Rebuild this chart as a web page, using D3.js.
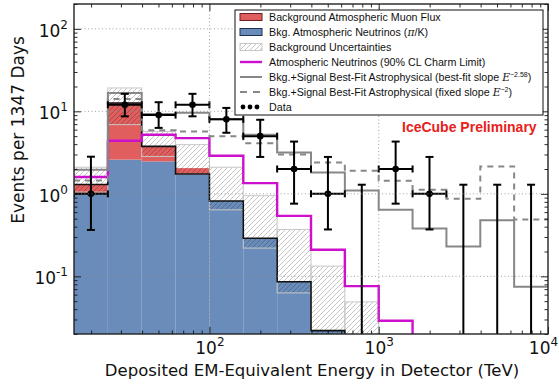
<!DOCTYPE html>
<html>
<head>
<meta charset="utf-8">
<script src="https://cdn.jsdelivr.net/npm/d3@7"></script>
<style>
  body { margin: 0; background: #fff; }
  svg { display: block; font-family: "DejaVu Sans", sans-serif; }
</style>
</head>
<body>
<svg id="chart" width="559" height="388"></svg>
<script>
// log10(E / TeV) bin edges, 14 bins
const binEdges = [1.2, 1.4, 1.6, 1.8, 2.0, 2.2, 2.4, 2.6, 2.8, 3.0, 3.2, 3.4, 3.6, 3.8, 4.0];

// background stack (events per bin)
const atmNu      = [1.0, 2.6, 2.47, 1.72, 0.82, 0.29, 0.086, 0.022, 0, 0, 0, 0, 0, 0];
const muonTop    = [1.3, 12.6, 3.76, 2.05, 0.82, 0.29, 0.086, 0.022, 0, 0, 0, 0, 0, 0];
const bkgLine    = [1.3, 12.6, 3.76, 1.74, 0.82, 0.29, 0.086, 0.022, 0, 0, 0, 0, 0, 0];
const uncLo      = [1.05, 6.9, 2.84, 1.74, 0.64, 0.22, 0.063, 0.01, 0.01, 0, 0, 0, 0, 0];
const uncHi      = [2.1, 19.2, 5.7, 3.95, 2.1, 0.95, 0.37, 0.133, 0.049, 0, 0, 0, 0, 0];

// model lines
const charmLimit = [1.6, 4.4, 5.2, 4.74, 2.9, 1.35, 0.54, 0.21, 0.076, 0.029, 0, 0, 0, 0];
const bestFit    = [1.96, 16.7, 9.3, 9.6, 8.0, 5.2, 3.18, 1.81, 1.10, 0.64, 0.38, 0.23, 0.48, 0.075];
const fixedSlope = [1.45, 14.1, 5.9, 5.7, 5.0, 4.1, 3.0, 2.40, 1.90, 1.44, 1.12, 0.87, 2.15, 0.49];

// observed events
const dataCounts = [1, 12, 9, 12, 8, 5, 2, 1, 0, 2, 1, 0, 0, 0];
const dataLo     = [0.365, 8.7, 6.3, 8.7, 5.5, 2.8, 0.76, 0.37, 0, 0.76, 0.37, 0, 0, 0];
const dataHi     = [2.82, 16.3, 12.9, 16.3, 11, 7.9, 4.3, 2.8, 1.29, 4.3, 2.8, 1.29, 1.29, 1.29];

const xTicks = [2, 3, 4];          // exponents shown on x
const yTicks = [-1, 0, 1, 2];      // exponents shown on y

const legendItems = [
  "Background Atmospheric Muon Flux",
  "Bkg. Atmospheric Neutrinos",
  "Background Uncertainties",
  "Atmospheric Neutrinos (90% CL Charm Limit)",
  "Bkg.+Signal Best-Fit Astrophysical (best-fit slope ",
  "Bkg.+Signal Best-Fit Astrophysical (fixed slope ",
  "Data"
];

const svg = d3.select("#chart");
const pL = 74, pR = 548, pT = 4, pB = 334;

const x = d3.scaleLog().domain([Math.pow(10, 1.2), 1e4]).range([pL, pR]);
const y = d3.scaleLog().domain([0.02, 200]).range([pB, pT]);
const yv = v => v > 0 ? y(v) : pB + 60;

const BLUE = "#6a8cba", RED = "#e05e5e", MAG = "#cc10cc", GRAY = "#878787";

const defs = svg.append("defs");
defs.append("clipPath").attr("id", "plotClip")
  .append("rect").attr("x", pL).attr("y", pT).attr("width", pR - pL).attr("height", pB - pT);
const hatch = defs.append("pattern").attr("id", "hatch")
  .attr("patternUnits", "userSpaceOnUse").attr("width", 5).attr("height", 5);
hatch.append("path").attr("d", "M-1,1 l2,-2 M0,5 l5,-5 M4,6 l2,-2")
  .attr("stroke", "rgba(0,0,0,0.3)").attr("stroke-width", 0.75);

const plot = svg.append("g").attr("clip-path", "url(#plotClip)");

const bins = d3.range(binEdges.length - 1);
const bx0 = i => x(Math.pow(10, binEdges[i]));
const bx1 = i => x(Math.pow(10, binEdges[i + 1]));
const bxc = i => x(Math.pow(10, (binEdges[i] + binEdges[i + 1]) / 2));

function stepPath(vals) {
  let d = "";
  vals.forEach((v, i) => {
    d += (i === 0 ? "M" + bx0(i) + "," + yv(v) : "V" + yv(v)) + "H" + bx1(i);
  });
  return d;
}

// blue atmospheric neutrinos
plot.selectAll(".nu").data(bins.filter(i => atmNu[i] > 0)).enter().append("rect")
  .attr("x", bx0).attr("width", i => bx1(i) - bx0(i))
  .attr("y", i => y(atmNu[i])).attr("height", i => pB - y(atmNu[i]))
  .attr("fill", BLUE);

// red muons stacked on top
plot.selectAll(".mu").data(bins.filter(i => muonTop[i] > atmNu[i])).enter().append("rect")
  .attr("x", bx0).attr("width", i => bx1(i) - bx0(i))
  .attr("y", i => y(muonTop[i])).attr("height", i => y(atmNu[i]) - y(muonTop[i]))
  .attr("fill", RED);

// uncertainty band
plot.selectAll(".unc").data(bins.filter(i => uncHi[i] > 0)).enter().append("rect")
  .attr("x", bx0).attr("width", i => bx1(i) - bx0(i))
  .attr("y", i => y(uncHi[i])).attr("height", i => yv(uncLo[i]) - y(uncHi[i]))
  .attr("fill", "url(#hatch)").attr("stroke", "#c8c8c8").attr("stroke-width", 1);

// grid
const grid = svg.append("g").attr("stroke", "#8a8a8a").attr("stroke-width", 0.8).attr("stroke-dasharray", "1,2.5");
grid.selectAll(".gx").data([100, 1000]).enter().append("line")
  .attr("x1", d => x(d)).attr("x2", d => x(d)).attr("y1", pT).attr("y2", pB);
grid.selectAll(".gy").data(yTicks.map(e => Math.pow(10, e))).enter().append("line")
  .attr("x1", pL).attr("x2", pR).attr("y1", d => y(d)).attr("y2", d => y(d));

// step lines
plot.append("path").attr("d", stepPath(bkgLine)).attr("fill", "none").attr("stroke", "#111").attr("stroke-width", 1.6);
plot.append("path").attr("d", stepPath(charmLimit)).attr("fill", "none").attr("stroke", MAG).attr("stroke-width", 2.4);
plot.append("path").attr("d", stepPath(bestFit)).attr("fill", "none").attr("stroke", GRAY).attr("stroke-width", 2);
plot.append("path").attr("d", stepPath(fixedSlope)).attr("fill", "none").attr("stroke", GRAY)
  .attr("stroke-width", 2).attr("stroke-dasharray", "6,5");

// data
const dg = plot.append("g").attr("stroke", "#000").attr("stroke-width", 2);
bins.forEach(i => {
  const cx = bxc(i);
  const yHi = y(dataHi[i]);
  const yLo = dataLo[i] > 0 ? y(dataLo[i]) : pB + 20;
  dg.append("line").attr("x1", cx).attr("x2", cx).attr("y1", yHi).attr("y2", yLo);
  dg.append("line").attr("x1", cx - 4).attr("x2", cx + 4).attr("y1", yHi).attr("y2", yHi);
  if (dataLo[i] > 0) dg.append("line").attr("x1", cx - 4).attr("x2", cx + 4).attr("y1", yLo).attr("y2", yLo);
  if (dataCounts[i] > 0) {
    const cy = y(dataCounts[i]);
    dg.append("line").attr("x1", bx0(i)).attr("x2", bx1(i)).attr("y1", cy).attr("y2", cy);
    dg.append("line").attr("x1", bx0(i)).attr("x2", bx0(i)).attr("y1", cy - 3.5).attr("y2", cy + 3.5);
    dg.append("line").attr("x1", bx1(i)).attr("x2", bx1(i)).attr("y1", cy - 3.5).attr("y2", cy + 3.5);
    dg.append("circle").attr("cx", cx).attr("cy", cy).attr("r", 3.3).attr("fill", "#000").attr("stroke", "none");
  }
});

// axes (ticks pointing inward on all sides)
function minorTicks(lo, hi) {
  const out = [];
  for (let e = lo; e < hi; e++) for (let k = 2; k < 10; k++) out.push(k * Math.pow(10, e));
  return out;
}
const xMinor = minorTicks(1, 4).filter(v => v >= x.domain()[0]);
const yMinor = minorTicks(-2, 3).filter(v => v >= 0.02 && v <= 200);
const xMajor = xTicks.map(e => Math.pow(10, e));
const yMajor = yTicks.map(e => Math.pow(10, e));

function drawAxis(gen, pos, major, minor, label) {
  const g = svg.append("g").attr("transform", pos);
  g.call(gen(major).tickSize(-7).tickSizeOuter(0).tickPadding(label ? 6 : 0).tickFormat(() => ""));
  g.append("g").call(gen(minor).tickSize(-3.5).tickSizeOuter(0).tickFormat(() => ""));
  g.selectAll(".domain").remove();
  g.selectAll("line").attr("stroke", "#111").attr("stroke-width", 0.9);
  return g;
}
const xa = drawAxis(v => d3.axisBottom(x).tickValues(v), `translate(0,${pB})`, xMajor, xMinor, true);
drawAxis(v => d3.axisTop(x).tickValues(v), `translate(0,${pT})`, xMajor, xMinor, false);
const ya = drawAxis(v => d3.axisLeft(y).tickValues(v), `translate(${pL},0)`, yMajor, yMinor, true);
drawAxis(v => d3.axisRight(y).tickValues(v), `translate(${pR},0)`, yMajor, yMinor, false);

function powerLabel(sel, exp) {
  sel.text(null).attr("font-size", 17).attr("fill", "#111").attr("font-family", "DejaVu Sans");
  sel.append("tspan").text("10");
  sel.append("tspan").attr("dy", -8).attr("font-size", 12).text(exp);
}
xa.selectAll(":scope > .tick text").each(function (d) {
  const e = Math.round(Math.log10(d));
  powerLabel(d3.select(this).attr("dy", "0.95em").attr("y", 4).attr("x", e === 4 ? -5 : 0), e);
});
ya.selectAll(":scope > .tick text").each(function (d) {
  powerLabel(d3.select(this).attr("dy", "0.45em").attr("x", -6), Math.round(Math.log10(d)));
});

// frame
svg.append("rect").attr("x", pL).attr("y", pT).attr("width", pR - pL).attr("height", pB - pT)
  .attr("fill", "none").attr("stroke", "#222").attr("stroke-width", 1.4);

// axis titles
svg.append("text").attr("x", 312).attr("y", 376).attr("text-anchor", "middle")
  .attr("font-size", 16.5).attr("fill", "#111")
  .text("Deposited EM-Equivalent Energy in Detector (TeV)");
svg.append("text").attr("transform", "translate(24,130) rotate(-90)").attr("text-anchor", "middle")
  .attr("font-size", 17).attr("fill", "#111").text("Events per 1347 Days");

svg.append("text").attr("x", 402).attr("y", 132).attr("font-family", "Liberation Sans, Arial, sans-serif")
  .attr("font-weight", "bold").attr("font-size", 14).attr("fill", "#e8201a").text("IceCube Preliminary");

// legend
const lg = svg.append("g").attr("font-family", "Liberation Sans, Arial, sans-serif").attr("font-size", 10.7);
lg.append("rect").attr("x", 235).attr("y", 10).attr("width", 308).attr("height", 105)
  .attr("fill", "#fff").attr("stroke", "#111").attr("stroke-width", 1);
const rowY = i => 17 + i * 15;
lg.append("rect").attr("x", 240).attr("y", rowY(0) - 3.5).attr("width", 22).attr("height", 7)
  .attr("fill", RED).attr("stroke", "#6a2020").attr("stroke-width", 1);
lg.append("rect").attr("x", 240).attr("y", rowY(1) - 3.5).attr("width", 22).attr("height", 7)
  .attr("fill", BLUE).attr("stroke", "#1f2f4f").attr("stroke-width", 1);
lg.append("rect").attr("x", 240).attr("y", rowY(2) - 3.5).attr("width", 22).attr("height", 7)
  .attr("fill", "url(#hatch)").attr("stroke", "#c8c8c8").attr("stroke-width", 1);
lg.append("line").attr("x1", 240).attr("x2", 262).attr("y1", rowY(3)).attr("y2", rowY(3))
  .attr("stroke", MAG).attr("stroke-width", 2.4);
lg.append("line").attr("x1", 240).attr("x2", 262).attr("y1", rowY(4)).attr("y2", rowY(4))
  .attr("stroke", GRAY).attr("stroke-width", 2);
lg.append("line").attr("x1", 240).attr("x2", 262).attr("y1", rowY(5)).attr("y2", rowY(5))
  .attr("stroke", GRAY).attr("stroke-width", 2).attr("stroke-dasharray", "7,6");
[243, 250, 257].forEach(cx => lg.append("circle").attr("cx", cx).attr("cy", rowY(6)).attr("r", 2.4).attr("fill", "#000"));

legendItems.forEach((t, i) => {
  const tx = lg.append("text").attr("x", 269).attr("y", rowY(i) + 4).attr("fill", "#111").text(t);
  if (i === 1) {
    tx.append("tspan").text(" (");
    tx.append("tspan").attr("font-style", "italic").attr("font-family", "DejaVu Serif").text("π");
    tx.append("tspan").text("/K)");
  }
  if (i === 4 || i === 5) {
    tx.append("tspan").attr("font-style", "italic").attr("font-family", "DejaVu Serif").text("E");
    tx.append("tspan").attr("dy", -4).attr("font-size", 7).text(i === 4 ? "−2.58" : "−2");
    tx.append("tspan").attr("dy", 4).text(")");
  }
});
</script>
</body>
</html>
